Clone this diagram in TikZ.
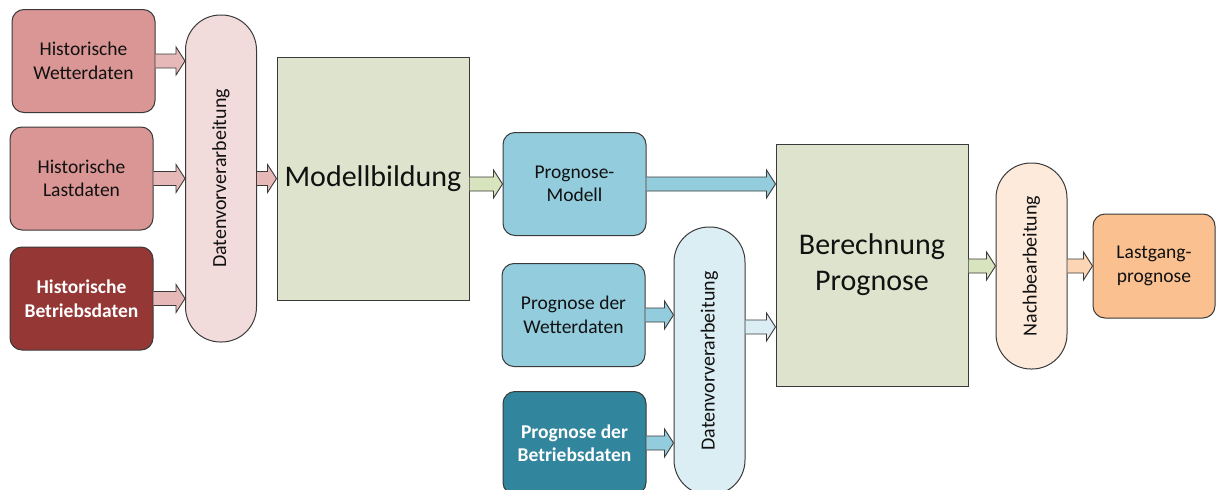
\documentclass[tikz,border=0pt]{standalone}
\usepackage{fontspec}
\setmainfont{Carlito}
\usetikzlibrary{calc}

\definecolor{histred}{HTML}{D99694}
\definecolor{histdark}{HTML}{953735}
\definecolor{pinkpill}{HTML}{F2DCDB}
\definecolor{pinkarrow}{HTML}{E6B9B8}
\definecolor{modelfill}{HTML}{DDE3CC}
\definecolor{greenarrow}{HTML}{D7E4BD}
\definecolor{progblue}{HTML}{93CDDD}
\definecolor{progdark}{HTML}{31859C}
\definecolor{bluepill}{HTML}{DBEEF4}
\definecolor{peachpill}{HTML}{FDEADA}
\definecolor{peacharrow}{HTML}{FCD5B5}
\definecolor{lastfill}{HTML}{FAC090}
\definecolor{edge}{HTML}{3A3A3A}
\definecolor{ink}{HTML}{111111}

% block arrow between two points on the same height
\newcommand\flowarrow[3]{%
  \draw[arrowline, fill=#1] let \p1=(#2), \p2=(#3) in
    (\x1,\y1+7pt) -- (\x2-9pt,\y1+7pt) -- (\x2-9pt,\y1+14pt) -- (\x2,\y1)
    -- (\x2-9pt,\y1-14pt) -- (\x2-9pt,\y1-7pt) -- (\x1,\y1-7pt);}

\begin{document}
\begin{tikzpicture}[x=1pt, y=-1pt,
  arrowline/.style={draw=edge, line width=0.9pt, line join=miter},
  databox/.style={draw=edge, line width=1pt, rounded corners=12pt,
    minimum width=143pt, minimum height=103pt, inner sep=0pt, align=center,
    text=ink, font=\fontsize{19.5}{23.5}\selectfont},
  darkbox/.style={databox, text=white, font=\fontsize{19.5}{23.5}\selectfont\bfseries},
  pill/.style={draw=edge, line width=1pt, rounded corners=35pt,
    minimum width=71pt, inner sep=0pt, text=ink,
    font=\fontsize{20}{24}\selectfont},
  stage/.style={draw=edge, line width=1pt, fill=modelfill, minimum width=192pt,
    minimum height=243pt, inner sep=0pt, align=center, text=ink,
    font=\fontsize{30}{36}\selectfont}]
\useasboundingbox (0,0) rectangle (1216,490);
\clip (0,0) rectangle (1216,490);

% historical inputs
\node[databox, fill=histred] (hw) at (83.5,61) {Historische\\Wetterdaten};
\node[databox, fill=histred] (hl) at (81.5,178.5) {Historische\\Lastdaten};
\node[darkbox, fill=histdark] (hb) at (81.5,298.5) {Historische\\Betriebsdaten};
\node[pill, fill=pinkpill, minimum height=327pt] (dv1) at (221,178.5)
  {\rotatebox{90}{Datenvorverarbeitung}};

% model building
\node[stage] (modell) at (373,178.5) {Modellbildung};
\node[databox, fill=progblue] (pm) at (574.5,184) {Prognose-\\Modell};

% forecast inputs
\node[databox, fill=progblue] (pw) at (573.5,315) {Prognose der\\Wetterdaten};
\node[darkbox, fill=progdark] (pb) at (574.5,443) {Prognose der\\Betriebsdaten};
\node[pill, fill=bluepill, minimum height=268pt] (dv2) at (709.5,361)
  {\rotatebox{90}{Datenvorverarbeitung}};
\coordinate (j2) at (745,327);

% forecast computation and output
\node[stage, minimum height=242pt] (ber) at (872,265) {Berechnung\\Prognose};
\node[pill, fill=peachpill, minimum height=206pt] (nach) at (1031.5,266)
  {\rotatebox{90}{Nachbearbeitung}};
\node[databox, fill=lastfill, minimum width=122pt, minimum height=104pt] (last)
  at (1154,266) {Lastgang-\\prognose};

% connectors
\flowarrow{pinkarrow}{hw.east}{dv1.west |- hw.east}
\flowarrow{pinkarrow}{hl.east}{dv1.west |- hl.east}
\flowarrow{pinkarrow}{hb.east}{dv1.west |- hb.east}
\flowarrow{pinkarrow}{dv1.east}{modell.west}
\flowarrow{greenarrow}{modell.east |- pm.west}{pm.west}
\flowarrow{progblue}{pm.east}{ber.west |- pm.east}
\flowarrow{progblue}{pw.east}{dv2.west |- pw.east}
\flowarrow{progblue}{pb.east}{dv2.west |- pb.east}
\flowarrow{bluepill}{dv2.east |- j2}{ber.west |- j2}
\flowarrow{greenarrow}{ber.east |- nach.west}{nach.west}
\flowarrow{peacharrow}{nach.east}{last.west}
\end{tikzpicture}
\end{document}
